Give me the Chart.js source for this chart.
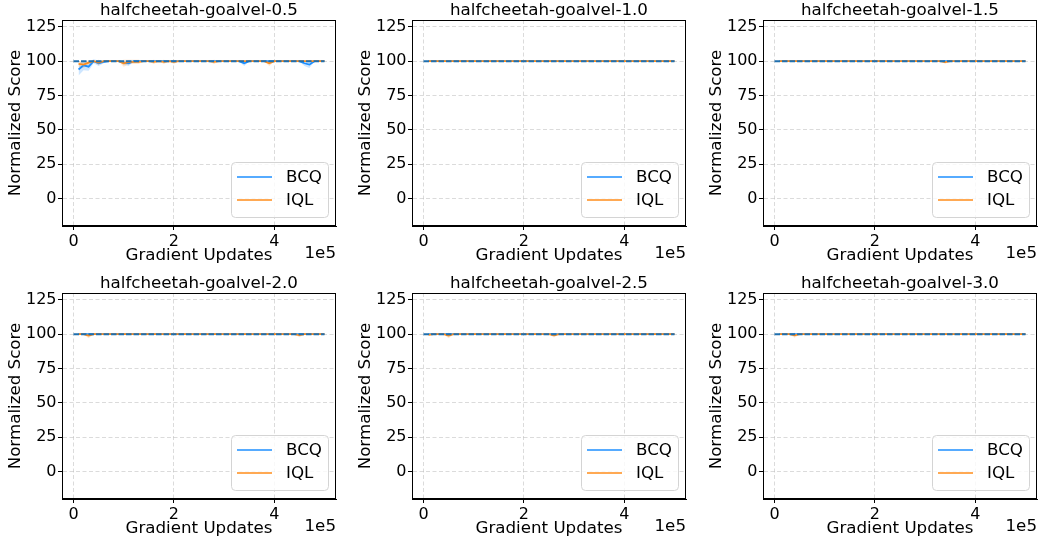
<!DOCTYPE html>
<html>
<head>
<meta charset="utf-8">
<script src="https://cdn.jsdelivr.net/npm/chart.js@4.4.0/dist/chart.umd.min.js"></script>
<style>
  body { margin: 0; background: #fff; width: 1040px; height: 540px; overflow: hidden; position: relative; }
  canvas { position: absolute; }
</style>
</head>
<body>
<canvas id="c0" width="339" height="272" style="left:0px;top:0px"></canvas>
<canvas id="c1" width="339" height="272" style="left:350px;top:0px"></canvas>
<canvas id="c2" width="339" height="272" style="left:701px;top:0px"></canvas>
<canvas id="c3" width="339" height="272" style="left:0px;top:273px"></canvas>
<canvas id="c4" width="339" height="272" style="left:350px;top:273px"></canvas>
<canvas id="c5" width="339" height="272" style="left:701px;top:273px"></canvas>
<script>
// gradient updates (thousands), one eval every 10k steps
const stepsK = [10, 20, 30, 40, 50, 60, 70, 80, 90, 100,
  110, 120, 130, 140, 150, 160, 170, 180, 190, 200,
  210, 220, 230, 240, 250, 260, 270, 280, 290, 300,
  310, 320, 330, 340, 350, 360, 370, 380, 390, 400,
  410, 420, 430, 440, 450, 460, 470, 480, 490, 500];
const xTicks = [0, 200000, 400000];
const yTicks = [0, 25, 50, 75, 100, 125];
const refX = [0, 500000];
const refY = [100, 100];
const titles = ['halfcheetah-goalvel-0.5', 'halfcheetah-goalvel-1.0', 'halfcheetah-goalvel-1.5',
  'halfcheetah-goalvel-2.0', 'halfcheetah-goalvel-2.5', 'halfcheetah-goalvel-3.0'];

// goalvel 0.5
const bcq05 = [94, 97, 96, 100, 98.5, 99.5, 100, 100, 100, 99,
  98.5, 100, 100, 100, 100, 100, 100, 100, 100, 100,
  100, 100, 100, 100, 100, 100, 100, 100, 100, 100,
  100, 100, 100, 98.5, 100, 100, 100, 100, 100, 100,
  100, 100, 100, 100, 100, 98.5, 97.5, 100, 100, 100];
const bcqSd05 = [4.5, 3.5, 3, 1.5, 2, 1, 0, 0, 0, 1.5,
  2, 0, 0, 0, 0, 0, 0, 0, 0, 0,
  0, 0, 0, 0, 0, 0, 0, 0, 0, 0,
  0, 0, 0, 2, 0, 0, 0, 0, 0, 0,
  0, 0, 0, 0, 0, 2, 2.5, 0, 0, 0];
const iql05 = [98, 97.5, 99, 100, 99, 100, 100, 100, 100, 98.5,
  99.5, 99.5, 99.5, 100, 100, 99.5, 100, 99.5, 100, 99.5,
  100, 100, 100, 100, 100, 100, 100, 99.5, 100, 100,
  100, 100, 100, 100, 100, 100, 100, 100, 98.5, 100,
  100, 100, 100, 100, 100, 100, 100, 100, 100, 100];
const iqlSd05 = [2, 2.5, 1.5, 0, 2, 0, 0, 0, 0, 2.5,
  1.5, 1.5, 1.5, 0, 0, 1.5, 0, 1.5, 0, 1.5,
  0, 0, 0, 0, 0, 0, 0, 1.5, 0, 0,
  0, 0, 0, 0, 0, 0, 0, 0, 2, 0,
  0, 0, 0, 0, 0, 0, 0, 0, 0, 0];

// goalvel 1.0
const bcq10 = [100, 100, 100, 100, 100, 100, 100, 100, 100, 100,
  100, 100, 100, 100, 100, 100, 100, 100, 100, 100,
  100, 100, 100, 100, 100, 100, 100, 100, 100, 100,
  100, 100, 100, 100, 100, 100, 100, 100, 100, 100,
  100, 100, 100, 100, 100, 100, 100, 100, 100, 100];
const iql10 = [100, 100, 100, 100, 100, 100, 100, 100, 100, 100,
  100, 100, 100, 100, 100, 100, 100, 100, 100, 100,
  100, 100, 100, 100, 100, 100, 100, 100, 100, 100,
  100, 100, 100, 100, 100, 100, 100, 100, 100, 100,
  100, 100, 100, 100, 100, 100, 100, 100, 100, 100];
const iqlSd10 = [0, 0, 0, 0, 0, 0, 0, 0, 0, 0,
  0, 0, 0, 0, 0, 0, 0, 0, 0, 0,
  0, 0, 0, 0, 0, 0, 0, 0, 0, 0,
  0, 0, 0, 0, 0, 0, 0, 0, 0, 0,
  0, 0, 0, 0, 0, 0, 0, 0, 0, 0];

// goalvel 1.5
const bcq15 = [100, 100, 100, 100, 100, 100, 100, 100, 100, 100,
  100, 100, 100, 100, 100, 100, 100, 100, 100, 100,
  100, 100, 100, 100, 100, 100, 100, 100, 100, 100,
  100, 100, 100, 100, 100, 100, 100, 100, 100, 100,
  100, 100, 100, 100, 100, 100, 100, 100, 100, 100];
const iql15 = [100, 100, 100, 100, 100, 100, 100, 100, 100, 100,
  100, 100, 100, 100, 100, 100, 100, 100, 100, 100,
  100, 100, 100, 100, 100, 100, 100, 100, 100, 100,
  100, 100, 100, 99.3, 100, 100, 100, 100, 100, 100,
  100, 100, 100, 100, 100, 100, 100, 100, 100, 100];
const iqlSd15 = [0, 0, 0, 0, 0, 0, 0, 0, 0, 0,
  0, 0, 0, 0, 0, 0, 0, 0, 0, 0,
  0, 0, 0, 0, 0, 0, 0, 0, 0, 0,
  0, 0, 0, 1.2, 0, 0, 0, 0, 0, 0,
  0, 0, 0, 0, 0, 0, 0, 0, 0, 0];

// goalvel 2.0
const bcq20 = [100, 100, 100, 100, 100, 100, 100, 100, 100, 100,
  100, 100, 100, 100, 100, 100, 100, 100, 100, 100,
  100, 100, 100, 100, 100, 100, 100, 100, 100, 100,
  100, 100, 100, 100, 100, 100, 100, 100, 100, 100,
  100, 100, 100, 100, 100, 100, 100, 100, 100, 100];
const iql20 = [100, 100, 99, 100, 100, 100, 100, 100, 100, 100,
  100, 100, 100, 100, 100, 100, 100, 100, 100, 100,
  100, 100, 100, 100, 100, 100, 100, 100, 100, 100,
  100, 100, 100, 100, 100, 100, 100, 100, 100, 100,
  100, 100, 100, 100, 99.3, 100, 100, 100, 100, 100];
const iqlSd20 = [0, 0, 2, 0, 0, 0, 0, 0, 0, 0,
  0, 0, 0, 0, 0, 0, 0, 0, 0, 0,
  0, 0, 0, 0, 0, 0, 0, 0, 0, 0,
  0, 0, 0, 0, 0, 0, 0, 0, 0, 0,
  0, 0, 0, 0, 1.6, 0, 0, 0, 0, 0];

// goalvel 2.5
const bcq25 = [100, 100, 100, 100, 100, 100, 100, 100, 100, 100,
  100, 100, 100, 100, 100, 100, 100, 100, 100, 100,
  100, 100, 100, 100, 100, 100, 100, 100, 100, 100,
  100, 100, 100, 100, 100, 100, 100, 100, 100, 100,
  100, 100, 100, 100, 100, 100, 100, 100, 100, 100];
const iql25 = [99.5, 100, 100, 100, 99, 100, 100, 100, 100, 100,
  100, 100, 100, 100, 100, 100, 100, 100, 100, 100,
  100, 100, 100, 100, 100, 99.2, 100, 100, 100, 100,
  100, 100, 100, 100, 100, 100, 100, 100, 100, 100,
  100, 100, 100, 100, 100, 100, 100, 100, 100, 100];
const iqlSd25 = [0.6, 0, 0, 0, 2, 0, 0, 0, 0, 0,
  0, 0, 0, 0, 0, 0, 0, 0, 0, 0,
  0, 0, 0, 0, 0, 1.6, 0, 0, 0, 0,
  0, 0, 0, 0, 0, 0, 0, 0, 0, 0,
  0, 0, 0, 0, 0, 0, 0, 0, 0, 0];

// goalvel 3.0
const bcq30 = [100, 100, 100, 100, 100, 100, 100, 100, 100, 100,
  100, 100, 100, 100, 100, 100, 100, 100, 100, 100,
  100, 100, 100, 100, 100, 100, 100, 100, 100, 100,
  100, 100, 100, 100, 100, 100, 100, 100, 100, 100,
  100, 100, 100, 100, 100, 100, 100, 100, 100, 100];
const iql30 = [100, 100, 100, 99.2, 100, 100, 100, 100, 100, 100,
  100, 100, 100, 100, 100, 100, 100, 100, 100, 100,
  100, 100, 100, 100, 100, 100, 100, 100, 100, 100,
  100, 100, 100, 100, 100, 100, 100, 100, 100, 100,
  100, 100, 100, 100, 100, 100, 100, 100, 100, 100];
const iqlSd30 = [0, 0, 0, 1.8, 0, 0, 0, 0, 0, 0,
  0, 0, 0, 0, 0, 0, 0, 0, 0, 0,
  0, 0, 0, 0, 0, 0, 0, 0, 0, 0,
  0, 0, 0, 0, 0, 0, 0, 0, 0, 0,
  0, 0, 0, 0, 0, 0, 0, 0, 0, 0];

const panels = [
  { bcq: bcq05, bcqSd: bcqSd05, iql: iql05, iqlSd: iqlSd05 },
  { bcq: bcq10, bcqSd: iqlSd10, iql: iql10, iqlSd: iqlSd10 },
  { bcq: bcq15, bcqSd: iqlSd10, iql: iql15, iqlSd: iqlSd15 },
  { bcq: bcq20, bcqSd: iqlSd10, iql: iql20, iqlSd: iqlSd20 },
  { bcq: bcq25, bcqSd: iqlSd10, iql: iql25, iqlSd: iqlSd25 },
  { bcq: bcq30, bcqSd: iqlSd10, iql: iql30, iqlSd: iqlSd30 }
];

const BCQ_COLOR = '#1e8fff';
const IQL_COLOR = '#ff8c1a';
const REF_COLOR = '#1f6fae';
const FONT = 'DejaVu Sans';

Chart.defaults.font.family = FONT;
Chart.defaults.color = '#000';

function pts(vals) {
  return stepsK.map(function (k, i) { return { x: k * 1000, y: vals[i] }; });
}

// spines, subplot title, offset text and legend box
const decor = {
  id: 'decor',
  afterDraw(chart, args, opts) {
    const ctx = chart.ctx;
    const a = chart.chartArea;
    ctx.save();
    ctx.strokeStyle = '#000';
    ctx.lineWidth = 1;
    ctx.strokeRect(Math.round(a.left) + 0.5, Math.round(a.top) + 0.5,
      Math.round(a.right - a.left) - 1, Math.round(a.bottom - a.top) - 1);

    ctx.fillStyle = '#000';
    ctx.font = '16.7px "' + FONT + '"';
    ctx.textAlign = 'center';
    ctx.textBaseline = 'alphabetic';
    ctx.fillText(opts.title, (a.left + a.right) / 2, a.top - 5);

    ctx.textAlign = 'right';
    ctx.textBaseline = 'middle';
    ctx.fillText('1e5', a.right, a.bottom + 28);

    // legend
    const bw = 97, bh = 55;
    const bx = a.right - 8 - bw, by = a.bottom - 9 - bh;
    ctx.beginPath();
    ctx.roundRect(bx + 0.5, by + 0.5, bw, bh, 4);
    ctx.fillStyle = 'rgba(255,255,255,0.8)';
    ctx.fill();
    ctx.strokeStyle = '#d4d4d4';
    ctx.stroke();
    const rows = [['BCQ', BCQ_COLOR, by + 15], ['IQL', IQL_COLOR, by + 38]];
    rows.forEach(function (r) {
      ctx.beginPath();
      ctx.strokeStyle = r[1];
      ctx.lineWidth = 1.5;
      ctx.moveTo(bx + 6, r[2]);
      ctx.lineTo(bx + 41, r[2]);
      ctx.stroke();
      ctx.fillStyle = '#000';
      ctx.textAlign = 'left';
      ctx.fillText(r[0], bx + 55, r[2] + 1);
    });
    ctx.restore();
  }
};

const gridOpts = {
  color: 'rgba(0,0,0,0.14)', lineWidth: 1,
  tickColor: '#000', tickLength: 4, tickWidth: 1, tickBorderDash: []
};

panels.forEach(function (p, n) {
  const bcqHi = p.bcq.map(function (v, i) { return v + p.bcqSd[i]; });
  const bcqLo = p.bcq.map(function (v, i) { return v - p.bcqSd[i]; });
  const iqlHi = p.iql.map(function (v, i) { return v + p.iqlSd[i]; });
  const iqlLo = p.iql.map(function (v, i) { return v - p.iqlSd[i]; });

  // lower "order" is drawn on top
  const data = {
    datasets: [
      { data: pts(bcqHi), order: 6, borderWidth: 0, pointRadius: 0, fill: '+1', backgroundColor: 'rgba(30,143,255,0.22)' },
      { data: pts(bcqLo), order: 6, borderWidth: 0, pointRadius: 0, fill: false },
      { data: pts(iqlHi), order: 5, borderWidth: 0, pointRadius: 0, fill: '+1', backgroundColor: 'rgba(255,140,26,0.22)' },
      { data: pts(iqlLo), order: 5, borderWidth: 0, pointRadius: 0, fill: false },
      { label: 'BCQ', data: pts(p.bcq), order: 3, borderColor: BCQ_COLOR, borderWidth: 1.8, pointRadius: 0, fill: false },
      { label: 'IQL', data: pts(p.iql), order: 2, borderColor: IQL_COLOR, borderWidth: 1.8, pointRadius: 0, fill: false },
      { data: refX.map(function (x, i) { return { x: x, y: refY[i] }; }), order: 1,
        borderColor: REF_COLOR, borderWidth: 2, borderDash: [5.5, 2], pointRadius: 0, fill: false }
    ]
  };

  const config = {
    type: 'line',
    data: data,
    options: {
      responsive: false,
      animation: false,
      layout: { padding: { top: 20, right: 3, left: 0, bottom: 0 } },
      plugins: {
        legend: { display: false },
        tooltip: { enabled: false },
        decor: { title: titles[n] }
      },
      scales: {
        x: {
          type: 'linear',
          min: -23000,
          max: 523000,
          afterBuildTicks: function (s) { s.ticks = xTicks.map(function (v) { return { value: v }; }); },
          afterFit: function (s) { s.height = 46; },
          ticks: {
            font: { size: 16 },
            padding: 2,
            maxRotation: 0,
            callback: function (v) { return String(v / 100000); }
          },
          grid: gridOpts,
          border: { display: true, color: '#000', width: 1, dash: [4, 2.5] },
          title: { display: true, text: 'Gradient Updates', font: { size: 16.7 }, padding: { top: 0, bottom: 6 } }
        },
        y: {
          min: -20,
          max: 130,
          afterBuildTicks: function (s) { s.ticks = yTicks.map(function (v) { return { value: v }; }); },
          afterFit: function (s) { s.width = 62; },
          ticks: { font: { size: 16 }, padding: 1.5 },
          grid: gridOpts,
          border: { display: true, color: '#000', width: 1, dash: [4, 2.5] },
          title: { display: true, text: 'Normalized Score', font: { size: 16.7 }, padding: { top: 5.4, bottom: 0 } }
        }
      }
    },
    plugins: [decor]
  };

  new Chart(document.getElementById('c' + n), config);
});
</script>
</body>
</html>
